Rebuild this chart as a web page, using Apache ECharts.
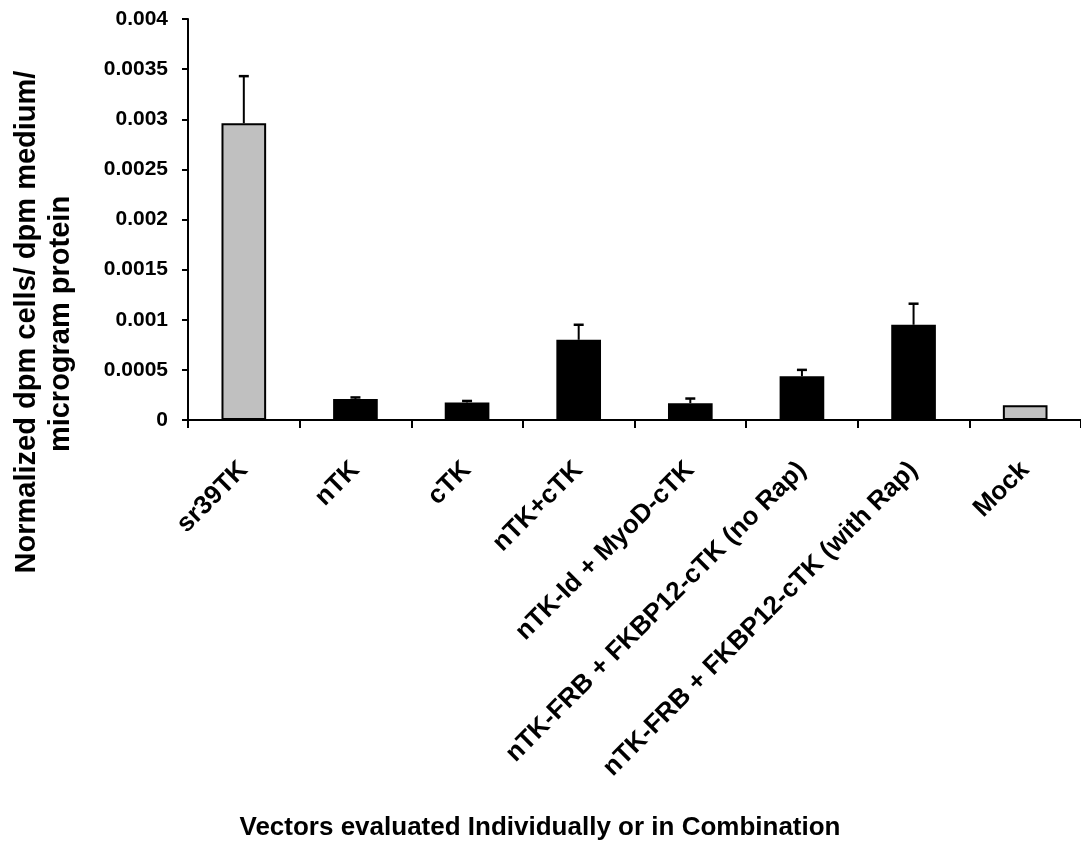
<!DOCTYPE html>
<html>
<head>
<meta charset="utf-8">
<script src="https://cdn.jsdelivr.net/npm/echarts@6/dist/echarts.min.js"></script>
<style>
html,body{margin:0;padding:0;background:#fff;}
#chart{width:1081px;height:850px;}
</style>
</head>
<body>
<div id="chart"></div>
<script>
// ---- data ----
var categories = ['sr39TK', 'nTK', 'cTK', 'nTK+cTK', 'nTK-Id + MyoD-cTK',
  'nTK-FRB + FKBP12-cTK (no Rap)', 'nTK-FRB + FKBP12-cTK (with Rap)', 'Mock'];
var values = [0.00296, 0.00021, 0.000175, 0.0008, 0.000168, 0.000437, 0.00095, 0.000148];
var errorsUp = [0.00047, 0.000015, 0.000015, 0.00015, 0.000046, 0.000063, 0.00021, 0];
var controlCategories = ['sr39TK', 'Mock'];
var yTicks = [0, 0.0005, 0.001, 0.0015, 0.002, 0.0025, 0.003, 0.0035, 0.004];
var yTitleLines = ['Normalized dpm cells/ dpm medium/', 'microgram protein'];
var xTitle = 'Vectors evaluated Individually or in Combination';

var FONT = '"Liberation Sans", Arial, sans-serif';
var chart = echarts.init(document.getElementById('chart'), null, {renderer: 'canvas'});

var barData = values.map(function (v, i) {
  var ctrl = controlCategories.indexOf(categories[i]) >= 0;
  return {value: v, itemStyle: {color: ctrl ? '#c0c0c0' : '#000000'}};
});
var errData = values.map(function (v, i) { return [i, v, v + errorsUp[i]]; });

chart.setOption({
  backgroundColor: '#ffffff',
  animation: false,
  grid: {left: 188, right: 0, top: 19, bottom: 430},
  xAxis: {
    type: 'category',
    data: categories,
    boundaryGap: true,
    axisLine: {lineStyle: {color: '#000', width: 2}},
    axisTick: {show: true, alignWithLabel: false, length: 8, lineStyle: {color: '#000', width: 2}},
    axisLabel: {
      interval: 0, rotate: 45, margin: 46,
      fontFamily: FONT, fontWeight: 'bold', fontSize: 26, color: '#000'
    },
    splitLine: {show: false}
  },
  yAxis: {
    type: 'value',
    min: yTicks[0], max: yTicks[yTicks.length - 1], interval: 0.0005,
    axisLine: {show: true, lineStyle: {color: '#000', width: 2}},
    axisTick: {show: true, length: 6, lineStyle: {color: '#000', width: 2}},
    axisLabel: {
      margin: 20, fontFamily: FONT, fontWeight: 'bold', fontSize: 21, color: '#000',
      formatter: function (v) { return v === 0 ? '0' : String(+v.toFixed(4)); }
    },
    splitLine: {show: false}
  },
  series: [
    {
      type: 'bar',
      data: barData,
      barWidth: '40%',
      itemStyle: {borderColor: '#000', borderWidth: 2}
    },
    {
      type: 'custom',
      data: errData,
      z: 5,
      renderItem: function (params, api) {
        var x = api.value(0);
        var lo = api.coord([x, api.value(1)]);
        var hi = api.coord([x, api.value(2)]);
        if (Math.abs(lo[1] - hi[1]) < 0.5) return null;
        var half = 5;
        return {
          type: 'group',
          children: [
            {type: 'line', shape: {x1: lo[0], y1: lo[1], x2: hi[0], y2: hi[1]},
             style: {stroke: '#000', lineWidth: 2}},
            {type: 'line', shape: {x1: hi[0] - half, y1: hi[1], x2: hi[0] + half, y2: hi[1]},
             style: {stroke: '#000', lineWidth: 2.5}}
          ]
        };
      }
    }
  ],
  graphic: [
    {type: 'text', x: 27, y: 322, rotation: Math.PI / 2,
     style: {text: yTitleLines[0], font: 'bold 29px ' + FONT, fill: '#000', align: 'center', verticalAlign: 'middle'}},
    {type: 'text', x: 61, y: 324, rotation: Math.PI / 2,
     style: {text: yTitleLines[1], font: 'bold 29px ' + FONT, fill: '#000', align: 'center', verticalAlign: 'middle'}},
    {type: 'text', x: 540, y: 828,
     style: {text: xTitle, font: 'bold 26px ' + FONT, fill: '#000', align: 'center', verticalAlign: 'middle'}}
  ]
});
</script>
</body>
</html>
